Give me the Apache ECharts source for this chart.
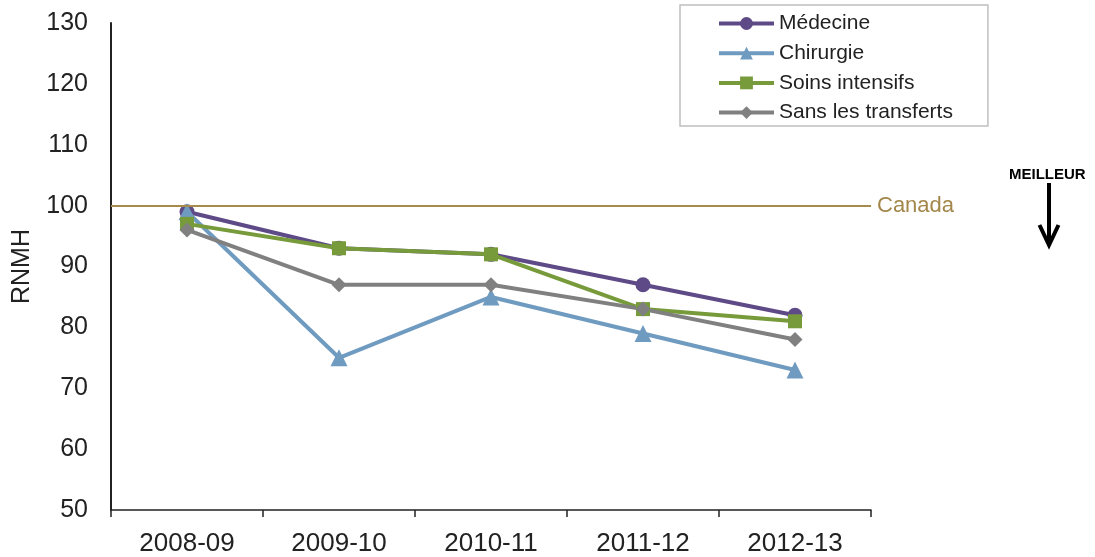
<!DOCTYPE html>
<html>
<head>
<meta charset="utf-8">
<script src="https://cdn.jsdelivr.net/npm/echarts@6/dist/echarts.min.js"></script>
<style>
  html, body { margin: 0; padding: 0; background: #fff; }
  #chart { width: 1095px; height: 557px; }
</style>
</head>
<body>
<div id="chart"></div>
<script>
// Fiscal years on the category axis
const years = ['2008-09', '2009-10', '2010-11', '2011-12', '2012-13'];

// RNMH by patient group
const medecine = [99, 93, 92, 87, 82];
const chirurgie = [99, 75, 85, 79, 73];
const soinsIntensifs = [97, 93, 92, 83, 81];
const sansTransferts = [96, 87, 87, 83, 78];

// National reference level
const canadaLevel = 100;

const FONT = '"Liberation Sans", Arial, sans-serif';

function lineSeries(name, data, color, symbol, size) {
  return {
    name: name,
    type: 'line',
    data: data,
    symbol: symbol,
    symbolSize: size,
    showAllSymbol: true,
    lineStyle: { color: color, width: 4 },
    itemStyle: { color: color },
    emphasis: { disabled: true },
    animation: false
  };
}

const series = [
  lineSeries('Médecine', medecine, '#5E4A87', 'circle', 15),
  lineSeries('Chirurgie', chirurgie, '#6F9BC0', 'triangle', 17),
  lineSeries('Soins intensifs', soinsIntensifs, '#779A3A', 'rect', 14),
  lineSeries('Sans les transferts', sansTransferts, '#808080', 'diamond', 15)
];

// Canada reference line with its end label
series[0].markLine = {
  silent: true,
  symbol: ['none', 'none'],
  animation: false,
  lineStyle: { color: '#A58B4C', width: 2, type: 'solid' },
  label: {
    show: true,
    position: 'end',
    distance: 6,
    formatter: 'Canada',
    color: '#A3864A',
    fontSize: 22,
    fontFamily: FONT
  },
  data: [{ yAxis: canadaLevel }]
};
series[0].z = 2;

const chart = echarts.init(document.getElementById('chart'), null, { renderer: 'canvas' });

chart.setOption({
  backgroundColor: '#ffffff',
  animation: false,
  grid: { left: 111, right: 224, top: 23, bottom: 47, containLabel: false },
  legend: {
    orient: 'vertical',
    left: 680,
    top: 5,
    padding: [8, 35, 3, 37],
    borderColor: '#bfbfbf',
    borderWidth: 1.5,
    itemWidth: 55,
    itemHeight: 16,
    itemGap: 8.7,
    lineStyle: { width: 4 },
    textStyle: { fontSize: 21, color: '#222', fontFamily: FONT },
    data: ['Médecine', 'Chirurgie', 'Soins intensifs', 'Sans les transferts']
  },
  xAxis: {
    type: 'category',
    data: years,
    boundaryGap: true,
    axisLine: { show: true, lineStyle: { color: '#222', width: 1.5 } },
    axisTick: { show: true, length: 7, alignWithLabel: false, lineStyle: { color: '#222', width: 1.5 } },
    axisLabel: { fontSize: 26, color: '#222', margin: 21, fontFamily: FONT },
    splitLine: { show: false }
  },
  yAxis: {
    type: 'value',
    min: 50,
    max: 130,
    interval: 10,
    name: 'RNMH',
    nameLocation: 'middle',
    nameRotate: 90,
    nameGap: 76,
    nameTextStyle: { fontSize: 25, color: '#222', fontFamily: FONT },
    axisLine: { show: true, lineStyle: { color: '#222', width: 2 } },
    axisTick: { show: false },
    axisLabel: { fontSize: 25, color: '#222', margin: 23, fontFamily: FONT },
    splitLine: { show: false }
  },
  graphic: [
    {
      type: 'text',
      left: 1009,
      top: 167,
      style: { text: 'MEILLEUR', font: 'bold 15px ' + FONT, fill: '#000' }
    },
    {
      type: 'line',
      shape: { x1: 1049, y1: 183, x2: 1049, y2: 244 },
      style: { stroke: '#000', lineWidth: 4 }
    },
    {
      type: 'polyline',
      shape: { points: [[1039.5, 225], [1049, 245], [1058.5, 225]] },
      style: { stroke: '#000', lineWidth: 4, fill: null, lineJoin: 'miter' }
    }
  ],
  series: series
});
</script>
</body>
</html>
